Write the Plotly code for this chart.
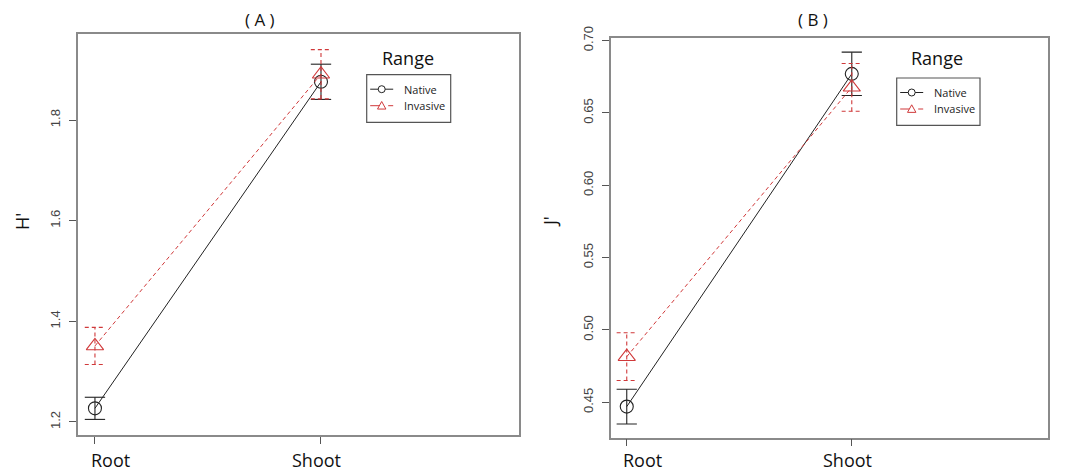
import plotly.graph_objects as go

W, H = 1065, 471

# ---- data ----
categories = ["Root", "Shoot"]
cat_pos = [1, 2]
series_names = ["Native", "Invasive"]

# Panel A: H'
h_native_mean = [1.227, 1.876]
h_native_se = [0.022, 0.035]
h_invasive_mean = [1.351, 1.891]
h_invasive_se = [0.037, 0.049]

# Panel B: J'
j_native_mean = [0.447, 0.677]
j_native_se = [0.012, 0.015]
j_invasive_mean = [0.4815, 0.6677]
j_invasive_se = [0.0165, 0.0165]

h_ticks = [1.2, 1.4, 1.6, 1.8]
j_ticks = [0.45, 0.50, 0.55, 0.60, 0.65, 0.70]

RED = "#D0393A"
BLACK = "#222222"
BOX = "#8a8a8a"


def px(x):
    return x / W


def py(y):
    return 1 - y / H


fig = go.Figure()

panels = [
    dict(xa="x", ya="y", nm=h_native_mean, ns=h_native_se, im=h_invasive_mean, is_=h_invasive_se),
    dict(xa="x2", ya="y2", nm=j_native_mean, ns=j_native_se, im=j_invasive_mean, is_=j_invasive_se),
]

CAP = 0.045  # cap half-width in x data units

for i, p in enumerate(panels):
    for name, means, ses, color, dash, sym in [
        ("Native", p["nm"], p["ns"], BLACK, "solid", "circle-open"),
        ("Invasive", p["im"], p["is_"], RED, "4px,3px", "triangle-up-open"),
    ]:
        fig.add_trace(go.Scatter(
            x=cat_pos, y=means, mode="lines+markers", name=name,
            xaxis=p["xa"], yaxis=p["ya"], showlegend=False,
            line=dict(color=color, width=1, dash=dash),
            marker=dict(symbol=sym, size=13 if sym.startswith("circle") else 15,
                        color=color, line=dict(width=1.1, color=color)),
        ))
        ex, ey = [], []
        for xc, m, s in zip(cat_pos, means, ses):
            ex += [xc, xc, None, xc - CAP, xc + CAP, None, xc - CAP, xc + CAP, None]
            ey += [m - s, m + s, None, m + s, m + s, None, m - s, m - s, None]
        fig.add_trace(go.Scatter(
            x=ex, y=ey, mode="lines", xaxis=p["xa"], yaxis=p["ya"], showlegend=False,
            line=dict(color=color, width=1.1, dash=dash), hoverinfo="skip",
        ))

axis_common = dict(showline=True, mirror=True, linecolor=BOX, linewidth=1.5,
                   showgrid=False, zeroline=False, ticks="outside", ticklen=7,
                   tickcolor="#555555", tickwidth=1, automargin=False)

fig.update_layout(
    width=W, height=H, autosize=False,
    margin=dict(l=0, r=0, t=0, b=0, pad=0, autoexpand=False),
    plot_bgcolor="white", paper_bgcolor="white", showlegend=False,
    xaxis=dict(domain=[px(78), px(519)], range=[0.925, 2.876], tickvals=cat_pos,
               showticklabels=False, **axis_common),
    yaxis=dict(domain=[py(435), py(34)], range=[1.174, 1.971], tickvals=h_ticks,
               ticktext=[f"{v:.1f}" for v in h_ticks], tickangle=-90,
               tickfont=dict(family="Liberation Sans, Arial", size=13, color="#444444"),
               ticklabelstandoff=4, **axis_common),
    xaxis2=dict(domain=[px(611), px(1048)], range=[0.930, 2.872], tickvals=cat_pos,
                showticklabels=False, anchor="y2", **axis_common),
    yaxis2=dict(domain=[py(437.7), py(37.7)], range=[0.4255, 0.702], tickvals=j_ticks,
                ticktext=[f"{v:.2f}" for v in j_ticks], tickangle=-90, anchor="x2",
                tickfont=dict(family="Liberation Sans, Arial", size=13, color="#444444"),
                ticklabelstandoff=4, **axis_common),
)

TFONT = "Open Sans, Noto Sans, sans-serif"
annotations = []
for xa in ["x", "x2"]:
    for xc, lab, shift in zip(cat_pos, categories, [16, -4]):
        annotations.append(dict(x=xc, y=py(460), xref=xa, yref="paper",
                                xanchor="center", yanchor="middle",
                                text=lab, showarrow=False, xshift=shift,
                                font=dict(family=TFONT, size=18, color="#111111")))

annotations += [
    dict(x=px(260), y=py(20), xref="paper", yref="paper", text="( A )", showarrow=False,
         xanchor="center", yanchor="middle",
         font=dict(family=TFONT, size=17, color="#111111")),
    dict(x=px(813), y=py(20), xref="paper", yref="paper", text="( B )", showarrow=False,
         xanchor="center", yanchor="middle",
         font=dict(family=TFONT, size=17, color="#111111")),
    dict(x=px(22), y=py(222), xref="paper", yref="paper", text="H'", textangle=-90,
         xanchor="center", yanchor="middle",
         showarrow=False, font=dict(family=TFONT, size=18, color="#111111")),
    dict(x=px(550), y=py(222), xref="paper", yref="paper", text="J'", textangle=-90,
         xanchor="center", yanchor="middle",
         showarrow=False, font=dict(family=TFONT, size=18, color="#111111")),
]

shapes = []
for (bx0, bx1, by0, by1, rx, ry) in [(366.7, 450.7, 74.7, 122.3, 408, 58),
                                      (896.7, 980.0, 78.0, 125.3, 936.7, 58)]:
    shapes.append(dict(type="rect", xref="paper", yref="paper",
                       x0=px(bx0), x1=px(bx1), y0=py(by1), y1=py(by0),
                       line=dict(color="#555555", width=1.2)))
    annotations.append(dict(x=px(rx), y=py(ry), xref="paper", yref="paper", text="Range",
                            xanchor="center", yanchor="middle",
                            showarrow=False, font=dict(family=TFONT, size=18, color="#111111")))
    rowy = [by0 + 14.5, by0 + 31]
    lx0, lx1 = bx0 + 3.5, bx0 + 26.5
    cx = (lx0 + lx1) / 2
    for (name, color, dash, yy) in [("Native", BLACK, "solid", rowy[0]),
                                     ("Invasive", RED, "dash", rowy[1])]:
        shapes.append(dict(type="line", xref="paper", yref="paper",
                           x0=px(lx0), x1=px(lx1), y0=py(yy), y1=py(yy),
                           line=dict(color=color, width=1, dash=dash)))
        if name == "Native":
            r = 3.5
            shapes.append(dict(type="circle", xref="paper", yref="paper",
                               x0=px(cx - r), x1=px(cx + r), y0=py(yy + r), y1=py(yy - r),
                               fillcolor="white", line=dict(color=color, width=1)))
        else:
            s = 4.2
            path = (f"M {px(cx - s)} {py(yy + s * 0.8)} L {px(cx + s)} {py(yy + s * 0.8)} "
                    f"L {px(cx)} {py(yy - s)} Z")
            shapes.append(dict(type="path", xref="paper", yref="paper", path=path,
                               fillcolor="white", line=dict(color=color, width=1)))
        annotations.append(dict(x=px(bx0 + 35), y=py(yy), xref="paper", yref="paper",
                                xanchor="left", yanchor="middle", text=name, showarrow=False,
                                font=dict(family=TFONT, size=11, color="#222222")))

fig.update_layout(annotations=annotations, shapes=shapes)
fig.write_html("out.html")
